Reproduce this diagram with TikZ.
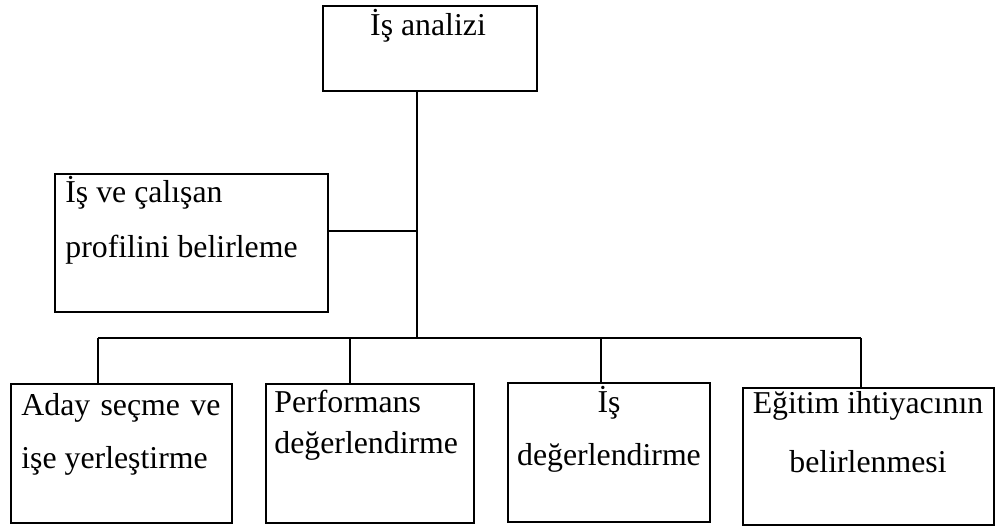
\documentclass[tikz,border=0pt]{standalone}
\usepackage{fontspec}
\setmainfont{Liberation Serif}

\begin{document}
\begin{tikzpicture}[x=0.5pt,y=-0.5pt,
  box/.style={draw,line width=1pt,inner sep=0pt,anchor=north west},
  txt/.style={inner sep=0pt,anchor=base west,align=left},
  link/.style={line width=0.75pt}]
  \useasboundingbox (0,0) rectangle (995,527);
  % boxes
  \node[box,minimum width=107pt,minimum height=42.5pt] (analiz) at (322,5) {};
  \node[box,minimum width=136.5pt,minimum height=69pt] (profil) at (54,173) {};
  \node[box,minimum width=110.5pt,minimum height=69.5pt] (aday) at (10,383) {};
  \node[box,minimum width=104pt,minimum height=69.5pt] (perf) at (265,383) {};
  \node[box,minimum width=101pt,minimum height=69.5pt] (isdeg) at (507,382) {};
  \node[box,minimum width=125.5pt,minimum height=68.5pt] (egitim) at (742,387) {};
  % texts (base = baseline of the last line)
  \node[txt,anchor=base,font=\fontsize{15.9}{19}\selectfont] (analizT) at (428,35) {İş analizi};
  \node[txt,font=\fontsize{15.9}{27.5}\selectfont] (profilT) at (65,257) {İş ve çalışan\\profilini belirleme};
  \node[txt,font=\fontsize{15.9}{26.5}\selectfont] (adayT) at (21,468) {\makebox[99.5pt][s]{Aday seçme ve}\\işe yerleştirme};
  \node[txt,font=\fontsize{15.9}{20.5}\selectfont] (perfT) at (274,453) {Performans\\değerlendirme};
  \node[txt,anchor=base,align=center,font=\fontsize{15.9}{26.5}\selectfont] (isdegT) at (609,465) {İş\\değerlendirme};
  \node[txt,anchor=base,align=center,font=\fontsize{15.9}{29.5}\selectfont] (egitimT) at (868,472) {Eğitim ihtiyacının\\belirlenmesi};
  % connectors
  \coordinate (trunk) at (417,338);
  \coordinate (side) at (417,231);
  \coordinate (d1) at (98,338);
  \coordinate (d2) at (350,338);
  \coordinate (d3) at (601,338);
  \coordinate (d4) at (861,338);
  \draw[link] (analiz.south -| trunk) -- (trunk);
  \draw[link] (side -| profil.east) -- (side);
  \draw[link] (d1) -- (d4);
  \draw[link] (d1) -- (d1 |- aday.north);
  \draw[link] (d2) -- (d2 |- perf.north);
  \draw[link] (d3) -- (d3 |- isdeg.north);
  \draw[link] (d4) -- (d4 |- egitim.north);
\end{tikzpicture}
\end{document}
